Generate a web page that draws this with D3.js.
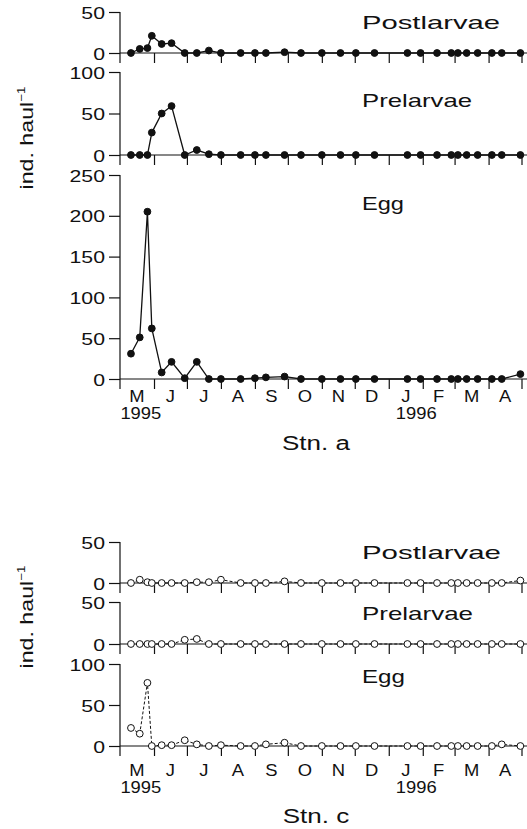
<!DOCTYPE html>
<html><head><meta charset="utf-8">
<script src="https://cdn.jsdelivr.net/npm/d3@7"></script>
<style>
body{margin:0;background:#fff}
svg{display:block}
text{font-family:"Liberation Sans",Arial,Helvetica,sans-serif;fill:#111}
</style>
</head><body>
<svg id="c" width="527" height="829"></svg>
<script>
// ---------- data ----------
const sampleDates = ["1995-05-11","1995-05-19","1995-05-26","1995-05-30","1995-06-08","1995-06-17","1995-06-29","1995-07-10","1995-07-21","1995-08-01","1995-08-19","1995-09-01","1995-09-11","1995-09-28","1995-10-13","1995-11-01","1995-11-18","1995-12-02","1995-12-19","1996-01-18","1996-01-30","1996-02-14","1996-02-27","1996-03-04","1996-03-12","1996-03-22","1996-04-04","1996-04-13","1996-04-30"];
const monthLabels = ["M","J","J","A","S","O","N","D","J","F","M","A"];
const yearLabels = ["1995","1996"];
const panelLabels = ["Postlarvae","Prelarvae","Egg"];
const stationLabels = ["Stn. a","Stn. c"];

const stnAPost = [0,5,6,21,11,12,0,0,3,0,0,0,0,1,0,0,0,0,0,0,0,0,0,0,0,0,0,0,0];
const stnAPre  = [0,0,0,27,50,59,0,6,1,0,0,0,0,0,0,0,0,0,0,0,0,0,0,0,0,0,0,0,0];
const stnAEgg  = [31,51,205,62,8,21,1,21,0,0,0,1,2,3,0,0,0,0,0,0,0,0,0,0,0,0,0,0,6];
const stnCPost = [0,4,1,0,0,0,0,1,1,4,0,0,0,2,0,0,0,0,0,0,0,0,0,0,0,0,0,0,3];
const stnCPre  = [0,0,0,0,0,0,5,6,0,0,0,0,0,0,0,0,0,0,0,0,0,0,0,0,0,0,0,0,0];
const stnCEgg  = [22,15,77,0,1,1,7,2,0,1,0,0,2,4,0,0,0,0,0,0,0,0,0,0,0,0,0,2,0];

const ticksAPost = [0,50];
const ticksAPre  = [0,50,100];
const ticksAEgg  = [0,50,100,150,200,250];
const ticksCPost = [0,50];
const ticksCPre  = [0,50];
const ticksCEgg  = [0,50,100];

// ---------- layout ----------
const svg = d3.select("#c");
const AX = 120, RIGHT = 527;
const parse = d3.timeParse("%Y-%m-%d");
const dates = sampleDates.map(parse);
const x = d3.scaleTime().domain([new Date(1995,4,1), new Date(1996,4,1)]).range([AX, 521.5]);
const INK = "#111";

const stations = [
  {label: stationLabels[0], filled: true, dash: null,
   panels: [
     {label: panelLabels[0], data: stnAPost, max: 50,  ticks: ticksAPost, y0: 53,  yTop: 12,  lblY: 28.5, lblW: 138},
     {label: panelLabels[1], data: stnAPre,  max: 100, ticks: ticksAPre,  y0: 155, yTop: 72,  lblY: 107, lblW: 110},
     {label: panelLabels[2], data: stnAEgg,  max: 250, ticks: ticksAEgg,  y0: 379, yTop: 175, lblY: 210, lblW: 42}
   ],
   yLabelY: 138, monthY: 402, yearY: 419, stnY: 450},
  {label: stationLabels[1], filled: false, dash: "3,2",
   panels: [
     {label: panelLabels[0], data: stnCPost, max: 50,  ticks: ticksCPost, y0: 583, yTop: 542, lblY: 558.5, lblW: 139},
     {label: panelLabels[1], data: stnCPre,  max: 50,  ticks: ticksCPre,  y0: 644, yTop: 602, lblY: 620, lblW: 111},
     {label: panelLabels[2], data: stnCEgg,  max: 100, ticks: ticksCEgg,  y0: 746, yTop: 664, lblY: 683, lblW: 43}
   ],
   yLabelY: 617, monthY: 776, yearY: 793, stnY: 823}
];

const monthStarts = d3.timeMonth.range(new Date(1995,4,1), new Date(1996,4,1));
const tickDates = d3.timeMonth.range(new Date(1995,5,1), new Date(1996,4,2));

function drawPanel(g, p, st) {
  const y = d3.scaleLinear().domain([0, p.max]).range([p.y0, p.yTop]);
  // vertical axis line
  g.append("line").attr("x1", AX).attr("x2", AX).attr("y1", p.yTop).attr("y2", p.y0 + 10)
    .attr("stroke", INK).attr("stroke-width", 1.2);
  // y ticks
  const ya = g.append("g").attr("transform", `translate(${AX},0)`)
    .call(d3.axisLeft(y).tickValues(p.ticks).tickSize(11).tickPadding(0));
  ya.select(".domain").remove();
  ya.selectAll(".tick line").attr("stroke", INK).attr("stroke-width", 1.2);
  ya.selectAll(".tick text").attr("x", null).attr("dy", "0.36em")
    .attr("transform", "translate(-15,0) scale(1.25,1)")
    .attr("fill", INK).style("font-size", "17px")
    .style("font-family", '"Liberation Sans",Arial,sans-serif');
  // baseline
  g.append("line").attr("x1", AX).attr("x2", RIGHT).attr("y1", p.y0).attr("y2", p.y0)
    .attr("stroke", INK).attr("stroke-width", 1.2);
  // month ticks
  const xa = g.append("g").attr("transform", `translate(0,${p.y0})`)
    .call(d3.axisBottom(x).tickValues(tickDates).tickSize(10).tickFormat(""));
  xa.select(".domain").remove();
  xa.selectAll(".tick line").attr("stroke", INK).attr("stroke-width", 1.2);
  // data line
  const pts = p.data.map((v, i) => ({d: dates[i], v}));
  g.append("path").datum(pts)
    .attr("d", d3.line().x(d => x(d.d)).y(d => y(d.v)))
    .attr("fill", "none").attr("stroke", INK).attr("stroke-width", st.filled ? 1.3 : 1)
    .attr("stroke-dasharray", st.dash);
  g.selectAll("circle").data(pts).join("circle")
    .attr("cx", d => x(d.d)).attr("cy", d => y(d.v)).attr("r", 3.4)
    .attr("fill", st.filled ? INK : "#fff").attr("stroke", INK).attr("stroke-width", 1);
  // panel label
  g.append("text").attr("x", 362).attr("y", p.lblY).text(p.label)
    .style("font-size", "19px").attr("textLength", p.lblW).attr("lengthAdjust", "spacingAndGlyphs");
}

stations.forEach(st => {
  const g = svg.append("g");
  st.panels.forEach(p => drawPanel(g.append("g"), p, st));
  // month labels
  g.selectAll("text.month").data(monthStarts).join("text").attr("class", "month")
    .attr("transform", (d, i) => {
      const mid = new Date((d.getTime() + d3.timeMonth.offset(d, 1).getTime()) / 2);
      return `translate(${x(mid)},${st.monthY}) scale(1.15,1)`;
    })
    .attr("text-anchor", "middle").style("font-size", "16px")
    .text((d, i) => monthLabels[i]);
  // year labels
  const yearPos = [new Date(1995,4,20), new Date(1996,0,26)];
  g.selectAll("text.year").data(yearLabels).join("text").attr("class", "year")
    .attr("transform", (d, i) => `translate(${x(yearPos[i])},${st.yearY}) scale(1.15,1)`)
    .attr("text-anchor", "middle").style("font-size", "16px").text(d => d);
  // station label
  g.append("text").attr("transform", `translate(316,${st.stnY}) scale(1.24,1)`)
    .attr("text-anchor", "middle").style("font-size", "21px").text(st.label);
  // y axis title
  const yt = g.append("text")
    .attr("transform", `translate(33,${st.yLabelY}) rotate(-90) scale(1.22,1)`)
    .attr("text-anchor", "middle").style("font-size", "19px");
  yt.append("tspan").text("ind. haul");
  yt.append("tspan").attr("dy", -8).style("font-size", "11px").text("\u22121");
});
</script>
</body></html>
